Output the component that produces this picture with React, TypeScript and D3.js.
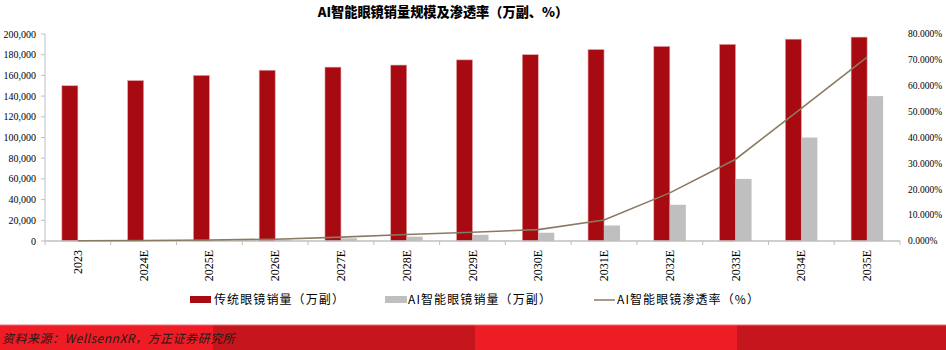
import React from "react";
import * as d3 from "d3";

const categories = ["2023", "2024E", "2025E", "2026E", "2027E", "2028E", "2029E", "2030E", "2031E", "2032E", "2033E", "2034E", "2035E"];
const traditionalSales = [150000, 155000, 160000, 165000, 168000, 170000, 175000, 180000, 185000, 188000, 190000, 195000, 197000];
const aiSales = [100, 300, 600, 1200, 2600, 4200, 6000, 8000, 15000, 35000, 60000, 100000, 140000];
const aiPenetration = [0.0007, 0.002, 0.004, 0.007, 0.015, 0.025, 0.034, 0.044, 0.081, 0.186, 0.316, 0.513, 0.711];
const leftTicks = [0, 20000, 40000, 60000, 80000, 100000, 120000, 140000, 160000, 180000, 200000];
const rightTicks = [0, 0.1, 0.2, 0.3, 0.4, 0.5, 0.6, 0.7, 0.8];
const seriesNames = ["传统眼镜销量（万副）", "AI智能眼镜销量（万副）", "AI智能眼镜渗透率（%）"];
const title = "AI智能眼镜销量规模及渗透率（万副、%）";
const source = "资料来源：WellsennXR，方正证券研究所";

const W = 946, H = 350;
const left = 45, right = 900, top = 34, bottom = 241;
const RED = "#A80A12";
const GRAY = "#BFBFBF";
const LINE = "#8A7A62";
const AXIS = "#BFBFBF";
const SERIF = "'Liberation Serif', 'Times New Roman', serif";
const CJK = "'Noto Sans CJK SC', sans-serif";

export default function App() {
  const x = d3.scaleBand<string>().domain(categories).range([left, right]).padding(0);
  const barW = 16;
  const yL = d3.scaleLinear().domain([0, 200000]).range([bottom, top]);
  const yR = d3.scaleLinear().domain([0, 0.8]).range([bottom, top]);
  const fmtL = d3.format(",");
  const fmtR = (v: number) => (v * 100).toFixed(3) + "%";
  const cx = (c: string) => (x(c) as number) + x.bandwidth() / 2;
  const line = d3
    .line<number>()
    .x((_, i) => cx(categories[i]))
    .y((d) => yR(d))
    .curve(d3.curveLinear);

  return (
    <svg width={W} height={H} style={{ position: "absolute", left: 0, top: 0, background: "#fff" }}>
      <text x={443} y={17} textAnchor="middle" fontFamily={CJK} fontWeight={900} fontSize={13.2} fill="#000">
        {title}
      </text>

      {/* left axis */}
      <line x1={left} x2={left} y1={top} y2={bottom} stroke={AXIS} strokeWidth={1} />
      {leftTicks.map((t) => (
        <g key={"l" + t}>
          <line x1={left - 4} x2={left} y1={yL(t)} y2={yL(t)} stroke={AXIS} />
          <text x={36} y={yL(t)} dy="0.35em" textAnchor="end" fontFamily={SERIF} fontSize={10} fill="#000">
            {fmtL(t)}
          </text>
        </g>
      ))}
      {/* right axis labels */}
      {rightTicks.map((t) => (
        <text key={"r" + t} x={908} y={yR(t)} dy="0.35em" textAnchor="start" fontFamily={SERIF} fontSize={9.5} fill="#000">
          {fmtR(t)}
        </text>
      ))}

      {/* bars */}
      {categories.map((c, i) => (
        <g key={"b" + c}>
          <rect x={cx(c) - barW} y={yL(traditionalSales[i])} width={barW} height={bottom - yL(traditionalSales[i])} fill={RED} stroke="#E6A3A6" strokeWidth={0.6} />
          <rect x={cx(c)} y={yL(aiSales[i])} width={barW} height={bottom - yL(aiSales[i])} fill={GRAY} />
        </g>
      ))}

      {/* x axis */}
      <line x1={left} x2={right} y1={bottom} y2={bottom} stroke={AXIS} strokeWidth={1.5} />
      {d3.range(categories.length + 1).map((i) => {
        const xx = left + i * x.bandwidth();
        return <line key={"t" + i} x1={xx} x2={xx} y1={bottom} y2={bottom + 4} stroke={AXIS} />;
      })}
      {categories.map((c) => (
        <text
          key={"x" + c}
          transform={`translate(${cx(c) + 4},${250}) rotate(-90)`}
          textAnchor="end"
          fontFamily={SERIF}
          fontSize={12}
          fill="#000"
        >
          {c}
        </text>
      ))}

      {/* line */}
      <path d={line(aiPenetration) || ""} fill="none" stroke={LINE} strokeWidth={1.6} />

      {/* legend */}
      <rect x={190} y={296} width={21} height={7} fill={RED} />
      <text x={214} y={304} fontFamily={CJK} fontSize={12} letterSpacing={1.1} fill="#000">{seriesNames[0]}</text>
      <rect x={385} y={296} width={22} height={7} fill={GRAY} />
      <text x={408} y={304} fontFamily={CJK} fontSize={12} letterSpacing={1.1} fill="#000">{seriesNames[1]}</text>
      <line x1={594} x2={615} y1={300} y2={300} stroke={LINE} strokeWidth={1.5} />
      <text x={617} y={304} fontFamily={CJK} fontSize={12} letterSpacing={1.1} fill="#000">{seriesNames[2]}</text>

      {/* footer band */}
      <rect x={0} y={325} width={213} height={25} fill="#EE1C25" />
      <rect x={213} y={325} width={262} height={25} fill="#C4161C" />
      <rect x={475} y={325} width={262} height={25} fill="#EE1C25" />
      <rect x={737} y={325} width={209} height={25} fill="#C4161C" />
      <line x1={0} x2={W} y1={325} y2={325} stroke="#F06A6F" strokeWidth={1} />
      <text x={2} y={343} fontFamily={CJK} fontStyle="italic" fontSize={12} letterSpacing={0.5} fill="#1a1a1a">
        {source}
      </text>
    </svg>
  );
}
